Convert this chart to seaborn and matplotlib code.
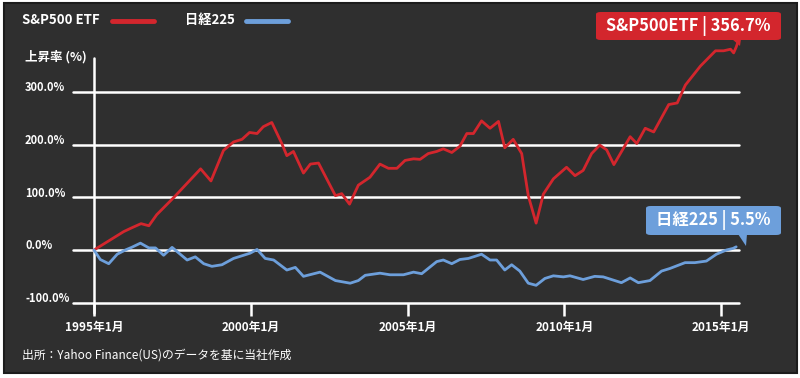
import pandas as pd
import numpy as np
import seaborn as sns
import matplotlib.pyplot as plt
import matplotlib.transforms as mtransforms
from matplotlib.patches import Rectangle, Polygon, FancyBboxPatch

# S&P500 ETF (year as decimal, % change since 1995/01)
sp_years = [1995.0, 1995.95, 1996.2, 1996.5, 1996.75, 1997.0, 1997.55, 1998.4, 1998.73,
            1999.13, 1999.45, 1999.72, 1999.96, 2000.2, 2000.4, 2000.67, 2000.99, 2001.15,
            2001.36, 2001.68, 2001.9, 2002.16, 2002.7, 2002.9, 2003.15, 2003.43, 2003.8,
            2004.12, 2004.39, 2004.66, 2004.92, 2005.19, 2005.4, 2005.66, 2005.93, 2006.14,
            2006.41, 2006.67, 2006.89, 2007.1, 2007.36, 2007.63, 2007.9, 2008.1, 2008.37,
            2008.64, 2008.85, 2009.1, 2009.33, 2009.65, 2010.07, 2010.34, 2010.6, 2010.87,
            2011.13, 2011.35, 2011.58, 2012.1, 2012.31, 2012.58, 2012.85, 2013.33, 2013.6,
            2013.86, 2014.34, 2014.82, 2015.08, 2015.3, 2015.4, 2015.48, 2015.55]
sp_values = [0, 35, 42, 50, 46, 67, 100, 154, 131,
             189, 205, 210, 223, 221, 234, 242, 202, 179,
             187, 146, 163, 165, 103, 107, 87, 123, 138,
             163, 155, 155, 170, 173, 172, 183, 187, 192,
             185, 197, 221, 221, 245, 231, 244, 194, 210,
             183, 103, 51, 106, 135, 157, 141, 151, 183,
             199, 190, 162, 215, 202, 231, 224, 276, 279,
             313, 349, 378, 378, 381, 374, 385, 397]

# 日経225
nk_years = [1995.0, 1995.2, 1995.47, 1995.74, 1996.0, 1996.2, 1996.48, 1996.75, 1996.96,
            1997.22, 1997.49, 1997.97, 1998.23, 1998.5, 1998.76, 1999.08, 1999.45, 1999.77,
            1999.98, 2000.2, 2000.46, 2000.73, 2001.15, 2001.42, 2001.68, 2002.21, 2002.7,
            2003.17, 2003.43, 2003.65, 2004.12, 2004.44, 2004.87, 2005.19, 2005.45, 2005.93,
            2006.14, 2006.41, 2006.67, 2006.94, 2007.36, 2007.63, 2007.84, 2008.1, 2008.32,
            2008.58, 2008.85, 2009.1, 2009.38, 2009.65, 2009.97, 2010.18, 2010.6, 2010.97,
            2011.24, 2011.82, 2012.1, 2012.36, 2012.73, 2013.1, 2013.37, 2013.85, 2014.16,
            2014.53, 2014.85, 2015.17, 2015.38, 2015.48]
nk_values = [0, -18, -26, -8, 0, 5, 13, 4, 4,
             -10, 5, -19, -13, -26, -31, -28, -16, -10,
             -6, 1, -16, -19, -38, -33, -50, -42, -58,
             -63, -58, -48, -44, -47, -47, -42, -45, -22,
             -19, -26, -18, -16, -8, -19, -19, -38, -28,
             -40, -63, -67, -54, -49, -51, -49, -56, -50,
             -51, -62, -53, -62, -58, -40, -35, -24, -24,
             -21, -8, 0, 3, 6]

series_names = ["S&P500 ETF", "日経225"]
y_ticks = [300, 200, 100, 0, -100]
x_ticks = [1995, 2000, 2005, 2010, 2015]
x_labels = ["1995年1月", "2000年1月", "2005年1月", "2010年1月", "2015年1月"]
sp_label = "S&P500ETF | 356.7%"
nk_label = "日経225 | 5.5%"

df = pd.concat([
    pd.DataFrame({"year": sp_years, "value": sp_values, "series": series_names[0]}),
    pd.DataFrame({"year": nk_years, "value": nk_values, "series": series_names[1]}),
])

sns.set_style("dark")
plt.rcParams["font.family"] = ["Noto Sans CJK JP", "DejaVu Sans"]

RED = "#d3262d"
BLUE = "#6d9fdb"
BG = "#2f2f2f"

fig = plt.figure(figsize=(8, 3.78), dpi=100, facecolor="white")
fig.patches.append(Rectangle((4 / 800, 5 / 378), 793 / 800, 370 / 378, transform=fig.transFigure,
                             facecolor=BG, edgecolor="#1c1c1c", linewidth=1.5, zorder=-5))

ax = fig.add_axes([94 / 800, 1 - 302.7 / 378, (739.3 - 94) / 800, (302.7 - 39.2) / 378])
ax.set_zorder(1)
ax.set_facecolor("none")
ax.set_xlim(1995, 2015.58)
ax.set_ylim(-100, 400)
for s in ax.spines.values():
    s.set_visible(False)
ax.grid(False)

# horizontal grid lines extend left of the axis
for v in y_ticks:
    ax.axhline(v, xmin=-0.033, xmax=1, color="white", linewidth=1.8, clip_on=False, zorder=1)
ax.axvline(1995, ymin=-0.04, ymax=0.93, color="white", linewidth=1.8, clip_on=False, zorder=1)

sns.lineplot(data=df, x="year", y="value", hue="series", palette=[RED, BLUE],
             linewidth=2.0, legend=False, ax=ax, sort=False, estimator=None)
for line in ax.lines[-2:]:
    line.set_clip_on(False)
    line.set_zorder(3)

ax.set_xticks(x_ticks)
ax.set_xticklabels(x_labels, color="white", fontsize=8.5, fontweight="bold")
ax.tick_params(axis="x", length=9, width=1.8, color="white", pad=4, bottom=True)
ax.set_yticks([])
ax.set_xlabel("")
ax.set_ylabel("")

trans = mtransforms.blended_transform_factory(fig.transFigure, ax.transData)
for v in y_ticks:
    ax.text(25 / 800, v + 8, f"{v:.1f}%", transform=trans, color="white", fontsize=8,
            ha="left", va="center", fontweight="bold")

fig.text(25 / 800, 1 - 57 / 378, "上昇率 (%)", color="white", fontsize=9, fontweight="bold",
         ha="left", va="center")

# legend
fig.text(22 / 800, 1 - 20 / 378, series_names[0], color="white", fontsize=9.5, fontweight="bold",
         ha="left", va="center")
fig.lines.append(plt.Line2D([112 / 800, 154 / 800], [1 - 21 / 378] * 2, transform=fig.transFigure,
                            color=RED, linewidth=3.5, solid_capstyle="round"))
fig.text(185 / 800, 1 - 20 / 378, series_names[1], color="white", fontsize=9.5, fontweight="bold",
         ha="left", va="center")
fig.lines.append(plt.Line2D([246 / 800, 288 / 800], [1 - 21 / 378] * 2, transform=fig.transFigure,
                            color=BLUE, linewidth=3.5, solid_capstyle="round"))

# callout boxes
def callout(x0, y0, x1, y1, tip, color, label):
    fig.patches.append(FancyBboxPatch((x0 / 800, 1 - y1 / 378), (x1 - x0) / 800, (y1 - y0) / 378,
                                      boxstyle="round,pad=0,rounding_size=0.006",
                                      transform=fig.transFigure, facecolor=color,
                                      edgecolor="none", zorder=4))
    tri = [(tip[0] - 8, y1 - 1), (tip[0] + 1, y1 - 1), tip]
    fig.patches.append(Polygon([(px / 800, 1 - py / 378) for px, py in tri], closed=True,
                               transform=fig.transFigure, facecolor=color, edgecolor="none",
                               zorder=4))
    fig.text((x0 + x1) / 2 / 800, 1 - (y0 + y1) / 2 / 378, label, color="white", fontsize=11.8,
             fontweight="bold", ha="center", va="center", zorder=5)

callout(596, 12, 781, 40, (740, 46), RED, sp_label)
callout(646, 206, 781, 235, (746, 246), BLUE, nk_label)

fig.text(22 / 800, 1 - 355 / 378, "出所：Yahoo Finance(US)のデータを基に当社作成", color="white",
         fontsize=8.5, ha="left", va="center")

fig.savefig("out.png", dpi=100, facecolor=fig.get_facecolor())
